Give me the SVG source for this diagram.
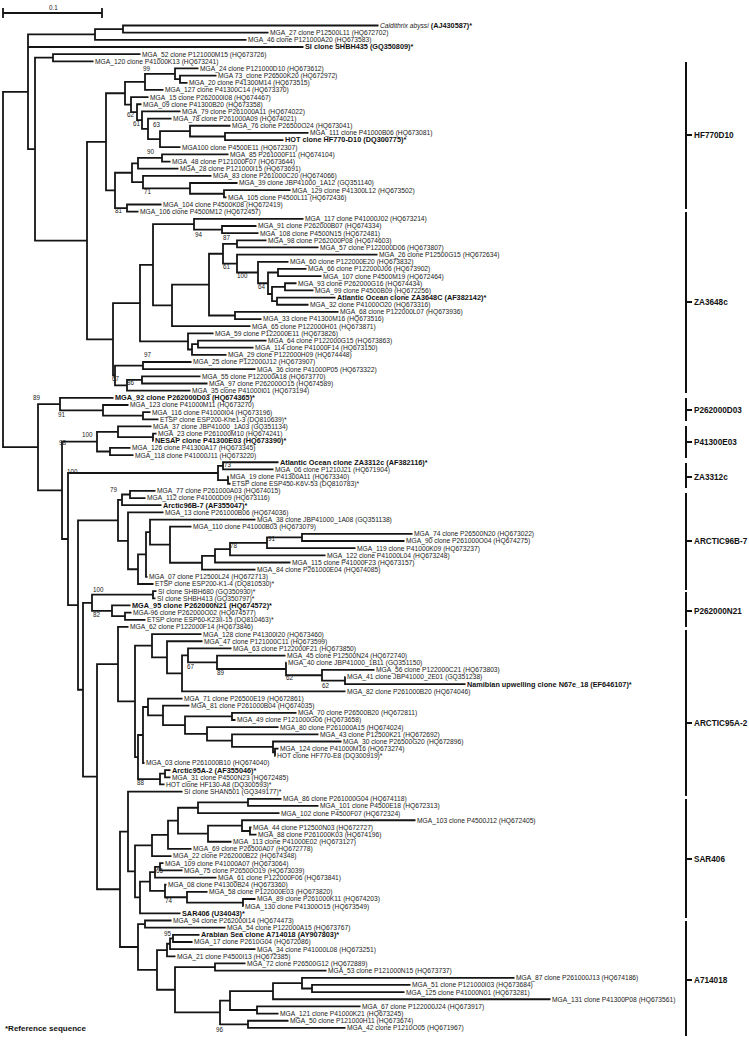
<svg xmlns="http://www.w3.org/2000/svg" width="749" height="1040" viewBox="0 0 749 1040">
<style>
.e{fill:none;stroke:#151515;stroke-width:1.8}
.k{fill:none;stroke:#111;stroke-width:2}
text{font-family:"Liberation Sans",Arial,sans-serif}
.t{font-size:6.7px;fill:#222}
.b{font-size:7.3px;font-weight:bold;fill:#111}
.s{font-size:6.3px;fill:#222}
.c{font-size:8.2px;font-weight:bold;fill:#111}
</style>
<rect width="749" height="1040" fill="#fff"/>
<g id="scale">
<path class="e" d="M3 13H102M3 8V18M102 8V18"/>
<text class="s" x="49" y="9.5">0.1</text>
</g>
<g id="connectors">
<path class="e" d="M378.5 25.5H123V32.66H268.5"/>
<path class="e" d="M123 29.08H95V39.82H246.5"/>
<path class="e" d="M95 34.45H28V149.15H35M28 46.98H303.5"/>
<path class="e" d="M140.5 54.14H53V61.3H93.5"/>
<path class="e" d="M53 57.72H35V240.57H87"/>
<path class="e" d="M216.5 75.62H180V82.78H187.5"/>
<path class="e" d="M198.5 68.46H175V79.2H180"/>
<path class="e" d="M175 73.83H145V89.94H163.5"/>
<path class="e" d="M308.5 132.9H225V140.06H283.5"/>
<path class="e" d="M230.5 125.74H190V136.48H225"/>
<path class="e" d="M190 131.11H160V147.22H180.5"/>
<path class="e" d="M171.5 118.58H148V139.17H160"/>
<path class="e" d="M180.5 111.42H142V128.88H148"/>
<path class="e" d="M141.5 104.26H137V120.15H142"/>
<path class="e" d="M148.5 97.1H131V112.2H137"/>
<path class="e" d="M145 81.89H125V104.65H131"/>
<path class="e" d="M228.5 154.38H162V161.54H170.5"/>
<path class="e" d="M162 157.96H138V168.7H178.5"/>
<path class="e" d="M290.5 190.18H224V197.34H226.5"/>
<path class="e" d="M237.5 183.02H190V193.76H224"/>
<path class="e" d="M211.5 175.86H143V188.39H190"/>
<path class="e" d="M138 163.33H132V182.13H143"/>
<path class="e" d="M161.5 204.5H127V211.66H138.5"/>
<path class="e" d="M132 172.73H115V208.08H127"/>
<path class="e" d="M125 93.27H106V190.4H115"/>
<path class="e" d="M106 141.84H87V339.29H113"/>
<path class="e" d="M256.5 225.98H222V233.14H258.5"/>
<path class="e" d="M303.5 218.82H194V229.56H222"/>
<path class="e" d="M266.5 240.3H237V247.46H318.5"/>
<path class="e" d="M306.5 268.94H278V276.1H321.5"/>
<path class="e" d="M296.5 283.26H285V290.42H313.5"/>
<path class="e" d="M335.5 297.58H277V304.74H308.5"/>
<path class="e" d="M285 286.84H272V301.16H277"/>
<path class="e" d="M278 272.52H268V294H272"/>
<path class="e" d="M288.5 261.78H258V283.26H268"/>
<path class="e" d="M377.5 254.62H237V272.52H258"/>
<path class="e" d="M237 243.88H223V263.57H237"/>
<path class="e" d="M338.5 311.9H235V319.06H261.5"/>
<path class="e" d="M223 253.73H209V315.48H235"/>
<path class="e" d="M209 284.6H172V326.22H250.5"/>
<path class="e" d="M194 224.19H153V305.41H172"/>
<path class="e" d="M266.5 340.54H198V347.7H253.5"/>
<path class="e" d="M198 344.12H192V354.86H226.5"/>
<path class="e" d="M213.5 333.38H188V349.49H192"/>
<path class="e" d="M153 264.8H140V341.44H188"/>
<path class="e" d="M191.5 362.02H143V369.18H255.5"/>
<path class="e" d="M200.5 376.34H142V383.5H207.5"/>
<path class="e" d="M142 379.92H127V390.66H190.5"/>
<path class="e" d="M143 365.6H115V385.29H127"/>
<path class="e" d="M140 303.12H113V375.45H115"/>
<path class="e" d="M28 91.8H3V447.22H38"/>
<path class="e" d="M150.5 412.14H143V419.3H158.5"/>
<path class="e" d="M128.5 404.98H103V415.72H143"/>
<path class="e" d="M113.5 397.82H60V410.35H103"/>
<path class="e" d="M60 404.09H38V490.35H62"/>
<path class="e" d="M156.5 433.62H153V440.78H153.5"/>
<path class="e" d="M151.5 426.46H118V437.2H153"/>
<path class="e" d="M130.5 447.94H110V455.1H133.5"/>
<path class="e" d="M118 431.83H97V451.52H110"/>
<path class="e" d="M97 441.68H62V539.02H68"/>
<path class="e" d="M278.5 462.26H223V469.42H273.5"/>
<path class="e" d="M228.5 476.58H228V483.74H230.5"/>
<path class="e" d="M223 465.84H218V480.16H228"/>
<path class="e" d="M218 473H68V605.04H78"/>
<path class="e" d="M155.5 490.9H130V498.06H145.5"/>
<path class="e" d="M130 494.48H122V505.22H161.5"/>
<path class="e" d="M412.5 533.86H302V541.02H404.5"/>
<path class="e" d="M302 537.44H267V548.18H355.5"/>
<path class="e" d="M267 542.81H230V555.34H325.5"/>
<path class="e" d="M230 549.08H215V562.5H290.5"/>
<path class="e" d="M215 555.79H202V569.66H255.5"/>
<path class="e" d="M191.5 526.7H170V562.73H202"/>
<path class="e" d="M255.5 519.54H150V544.71H170"/>
<path class="e" d="M150 532.13H146V576.82H147.5"/>
<path class="e" d="M146 554.47H138V583.98H153.5"/>
<path class="e" d="M163.5 512.38H128V569.23H138"/>
<path class="e" d="M122 499.85H118V540.8H128"/>
<path class="e" d="M118 520.33H78V689.75H83"/>
<path class="e" d="M156.5 591.14H153V598.3H155.5"/>
<path class="e" d="M131.5 612.62H125V619.78H145.5"/>
<path class="e" d="M130.5 605.46H112V616.2H125"/>
<path class="e" d="M153 594.72H92V610.83H112"/>
<path class="e" d="M92 602.78H83V776.72H97"/>
<path class="e" d="M345.5 677.06H345V684.22H465.5"/>
<path class="e" d="M374.5 669.9H322V680.64H345"/>
<path class="e" d="M286.5 662.74H286V675.27H322"/>
<path class="e" d="M285.5 655.58H217V669H286"/>
<path class="e" d="M231.5 648.42H188V662.29H217"/>
<path class="e" d="M188 655.36H182V691.38H345.5"/>
<path class="e" d="M202.5 641.26H167V673.37H182"/>
<path class="e" d="M201.5 634.1H152V657.32H167"/>
<path class="e" d="M296.5 712.86H232V720.02H235.5"/>
<path class="e" d="M278.5 748.66H275V755.82H275.5"/>
<path class="e" d="M341.5 741.5H273V752.24H275"/>
<path class="e" d="M318.5 734.34H232V746.87H273"/>
<path class="e" d="M278.5 727.18H207V740.61H232"/>
<path class="e" d="M232 716.44H185V733.9H207"/>
<path class="e" d="M189.5 705.7H163V725.17H185"/>
<path class="e" d="M182.5 698.54H148V715.44H163"/>
<path class="e" d="M148 706.99H143V762.98H144.5"/>
<path class="e" d="M170.5 770.14H165V777.3H170.5"/>
<path class="e" d="M165 773.72H160V784.46H164.5"/>
<path class="e" d="M143 734.99H138V779.09H160"/>
<path class="e" d="M152 645.71H135V757.04H138"/>
<path class="e" d="M128.5 626.94H118V701.38H135"/>
<path class="e" d="M118 664.16H97V889.27H120"/>
<path class="e" d="M281.5 798.78H248V805.94H318.5"/>
<path class="e" d="M248 802.36H198V813.1H279.5"/>
<path class="e" d="M251.5 827.42H250V834.58H256.5"/>
<path class="e" d="M415.5 820.26H242V831H250"/>
<path class="e" d="M242 825.63H208V841.74H231.5"/>
<path class="e" d="M198 807.73H178V833.69H208"/>
<path class="e" d="M178 820.71H168V848.9H191.5"/>
<path class="e" d="M168 834.8H152V856.06H171.5"/>
<path class="e" d="M163.5 863.22H160V870.38H182.5"/>
<path class="e" d="M160 866.8H155V877.54H216.5"/>
<path class="e" d="M255.5 899.02H243V906.18H243.5"/>
<path class="e" d="M207.5 891.86H187V902.6H243"/>
<path class="e" d="M166.5 884.7H165V897.23H187"/>
<path class="e" d="M155 872.17H150V890.97H165"/>
<path class="e" d="M150 881.57H140V913.34H180.5"/>
<path class="e" d="M152 845.43H135V897.46H140"/>
<path class="e" d="M182.5 791.62H128V871.45H135"/>
<path class="e" d="M171.5 920.5H145V927.66H225.5"/>
<path class="e" d="M199.5 934.82H173V941.98H192.5"/>
<path class="e" d="M173 938.4H170V949.14H255.5"/>
<path class="e" d="M170 943.77H167V956.3H175.5"/>
<path class="e" d="M245.5 963.46H215V970.62H326.5"/>
<path class="e" d="M410.5 984.94H312V992.1H404.5"/>
<path class="e" d="M514.5 977.78H302V988.52H312"/>
<path class="e" d="M302 983.15H273V999.26H550.5"/>
<path class="e" d="M360.5 1006.42H257V1013.58H278.5"/>
<path class="e" d="M273 991.21H230V1010H257"/>
<path class="e" d="M288.5 1020.74H248V1027.9H345.5"/>
<path class="e" d="M230 1000.6H220V1024.32H248"/>
<path class="e" d="M215 967.04H175V1012.46H220"/>
<path class="e" d="M167 950.04H157V989.75H175"/>
<path class="e" d="M145 924.08H138V969.9H157"/>
<path class="e" d="M128 831.54H120V946.99H138"/>
</g>
<g id="support">
<text class="s" x="143" y="71">99</text>
<text class="s" x="127" y="117">62</text>
<text class="s" x="133" y="126">61</text>
<text class="s" x="153" y="127">63</text>
<text class="s" x="147" y="154">90</text>
<text class="s" x="144" y="194">71</text>
<text class="s" x="115" y="213">81</text>
<text class="s" x="195" y="237">94</text>
<text class="s" x="223" y="240">87</text>
<text class="s" x="223" y="269">61</text>
<text class="s" x="237" y="278">100</text>
<text class="s" x="258" y="289">64</text>
<text class="s" x="144" y="357">97</text>
<text class="s" x="112" y="381">67</text>
<text class="s" x="127" y="385">86</text>
<text class="s" x="33" y="400">89</text>
<text class="s" x="58" y="417">91</text>
<text class="s" x="82" y="437">100</text>
<text class="s" x="59" y="445">98</text>
<text class="s" x="67" y="474">100</text>
<text class="s" x="224" y="467">73</text>
<text class="s" x="110" y="492">79</text>
<text class="s" x="230" y="548">78</text>
<text class="s" x="268" y="541">91</text>
<text class="s" x="93" y="592">100</text>
<text class="s" x="93" y="617">82</text>
<text class="s" x="187" y="669">67</text>
<text class="s" x="217" y="675">89</text>
<text class="s" x="286" y="680">62</text>
<text class="s" x="322" y="688">62</text>
<text class="s" x="137" y="785">88</text>
<text class="s" x="156" y="873">65</text>
<text class="s" x="165" y="903">74</text>
<text class="s" x="164" y="936">95</text>
<text class="s" x="216" y="1032">96</text>
</g>
<g id="tip1"><text x="380" y="27.9"><tspan class="t" font-style="italic" font-size="7.1px">Caldithrix abyssi</tspan><tspan class="b"> (AJ430587)*</tspan></text></g>
<g id="tip2"><text class="t" x="270" y="35.06">MGA_27 clone P12500L11 (HQ672702)</text></g>
<g id="tip3"><text class="t" x="248" y="42.22">MGA_46 clone P121000A20 (HQ673583)</text></g>
<g id="tip4"><text class="b" x="305" y="49.38">SI clone SHBH435 (GQ350809)*</text></g>
<g id="tip5"><text class="t" x="142" y="56.54">MGA_52 clone P121000M15 (HQ673726)</text></g>
<g id="tip6"><text class="t" x="95" y="63.7">MGA_120 clone P41000K13 (HQ673241)</text></g>
<g id="tip7"><text class="t" x="200" y="70.86">MGA_24 clone P121000D10 (HQ673612)</text></g>
<g id="tip8"><text class="t" x="218" y="78.02">MGA 73_clone P26500K20 (HQ672972)</text></g>
<g id="tip9"><text class="t" x="189" y="85.18">MGA_20 clone P41300M14 (HQ673515)</text></g>
<g id="tip10"><text class="t" x="165" y="92.34">MGA_127 clone P41300C14 (HQ673370)</text></g>
<g id="tip11"><text class="t" x="150" y="99.5">MGA_15 clone P262000I08 (HQ674467)</text></g>
<g id="tip12"><text class="t" x="143" y="106.66">MGA_09 clone P41300B20 (HQ673358)</text></g>
<g id="tip13"><text class="t" x="182" y="113.82">MGA_79 clone P261000A11 (HQ674022)</text></g>
<g id="tip14"><text class="t" x="173" y="120.98">MGA_78 clone P261000A09 (HQ674021)</text></g>
<g id="tip15"><text class="t" x="232" y="128.14">MGA_76 clone P26500O24 (HQ673041)</text></g>
<g id="tip16"><text class="t" x="310" y="135.3">MGA_111 clone P41000B06 (HQ673081)</text></g>
<g id="tip17"><text class="b" x="285" y="142.46">HOT clone HF770-D10 (DQ300775)*</text></g>
<g id="tip18"><text class="t" x="182" y="149.62">MGA100 clone P4500E11 (HQ672307)</text></g>
<g id="tip19"><text class="t" x="230" y="156.78">MGA_85 P261000F11 (HQ674104)</text></g>
<g id="tip20"><text class="t" x="172" y="163.94">MGA_48 clone P121000F07 (HQ673644)</text></g>
<g id="tip21"><text class="t" x="180" y="171.1">MGA_28 clone P121000I15 (HQ673691)</text></g>
<g id="tip22"><text class="t" x="213" y="178.26">MGA_83 clone P261000C20 (HQ674066)</text></g>
<g id="tip23"><text class="t" x="239" y="185.42">MGA_39 clone JBP41000_1A12 (GQ351140)</text></g>
<g id="tip24"><text class="t" x="292" y="192.58">MGA_129 clone P41300L12 (HQ673502)</text></g>
<g id="tip25"><text class="t" x="228" y="199.74">MGA_105 clone P4500L11 (HQ672436)</text></g>
<g id="tip26"><text class="t" x="163" y="206.9">MGA_104 clone P4500K08 (HQ672419)</text></g>
<g id="tip27"><text class="t" x="140" y="214.06">MGA_106 clone P4500M12 (HQ672457)</text></g>
<g id="tip28"><text class="t" x="305" y="221.22">MGA_117 clone P41000J02 (HQ673214)</text></g>
<g id="tip29"><text class="t" x="258" y="228.38">MGA_91 clone P262000B07 (HQ674334)</text></g>
<g id="tip30"><text class="t" x="260" y="235.54">MGA_108 clone P4500N15 (HQ672481)</text></g>
<g id="tip31"><text class="t" x="268" y="242.7">MGA_98 clone P262000P08 (HQ674603)</text></g>
<g id="tip32"><text class="t" x="320" y="249.86">MGA_57 clone P122000D06 (HQ673807)</text></g>
<g id="tip33"><text class="t" x="379" y="257.02">MGA_26 clone P12500G15 (HQ672634)</text></g>
<g id="tip34"><text class="t" x="290" y="264.18">MGA_60 clone P122000E20 (HQ673832)</text></g>
<g id="tip35"><text class="t" x="308" y="271.34">MGA_66 clone P122000J06 (HQ673902)</text></g>
<g id="tip36"><text class="t" x="323" y="278.5">MGA_107 clone P4500M19 (HQ672464)</text></g>
<g id="tip37"><text class="t" x="298" y="285.66">MGA_93 clone P262000G16 (HQ674434)</text></g>
<g id="tip38"><text class="t" x="315" y="292.82">MGA_99 clone P4500B09 (HQ672256)</text></g>
<g id="tip39"><text class="b" x="337" y="299.98">Atlantic Ocean clone ZA3648C (AF382142)*</text></g>
<g id="tip40"><text class="t" x="310" y="307.14">MGA_32 clone P41000O20 (HQ673316)</text></g>
<g id="tip41"><text class="t" x="340" y="314.3">MGA_68 clone P122000L07 (HQ673936)</text></g>
<g id="tip42"><text class="t" x="263" y="321.46">MGA_33 clone P41300M16 (HQ673516)</text></g>
<g id="tip43"><text class="t" x="252" y="328.62">MGA_65 clone P122000H01 (HQ673871)</text></g>
<g id="tip44"><text class="t" x="215" y="335.78">MGA_59 clone P122000E11 (HQ673826)</text></g>
<g id="tip45"><text class="t" x="268" y="342.94">MGA_64 clone P122000G15 (HQ673863)</text></g>
<g id="tip46"><text class="t" x="255" y="350.1">MGA_114 clone P41000F14 (HQ673150)</text></g>
<g id="tip47"><text class="t" x="228" y="357.26">MGA_29 clone P122000H09 (HQ674448)</text></g>
<g id="tip48"><text class="t" x="193" y="364.42">MGA_25 clone P122000J12 (HQ673907)</text></g>
<g id="tip49"><text class="t" x="257" y="371.58">MGA_36 clone P41000P05 (HQ673322)</text></g>
<g id="tip50"><text class="t" x="202" y="378.74">MGA_55 clone P122000A18 (HQ673770)</text></g>
<g id="tip51"><text class="t" x="209" y="385.9">MGA_97 clone P262000O15 (HQ674589)</text></g>
<g id="tip52"><text class="t" x="192" y="393.06">MGA_35 clone P41000I01 (HQ673194)</text></g>
<g id="tip53"><text class="b" x="115" y="400.22">MGA_92 clone P262000D03 (HQ674365)*</text></g>
<g id="tip54"><text class="t" x="130" y="407.38">MGA_123 clone P41000M11 (HQ673270)</text></g>
<g id="tip55"><text class="t" x="152" y="414.54">MGA_116 clone P41000I04 (HQ673196)</text></g>
<g id="tip56"><text class="t" x="160" y="421.7">ETSP clone ESP200-Khe1-3 (DQ810639)*</text></g>
<g id="tip57"><text class="t" x="153" y="428.86">MGA_37 clone JBP41000_1A03 (GQ351134)</text></g>
<g id="tip58"><text class="t" x="158" y="436.02">MGA_23 clone P261000M10 (HQ674241)</text></g>
<g id="tip59"><text class="b" x="155" y="443.18">NESAP clone P41300E03 (HQ673390)*</text></g>
<g id="tip60"><text class="t" x="132" y="450.34">MGA_126 clone P41300A17 (HQ673345)</text></g>
<g id="tip61"><text class="t" x="135" y="457.5">MGA_118 clone P41000J11 (HQ673220)</text></g>
<g id="tip62"><text class="b" x="280" y="464.66">Atlantic Ocean clone ZA3312c (AF382116)*</text></g>
<g id="tip63"><text class="t" x="275" y="471.82">MGA_06 clone P1210J21 (HQ671904)</text></g>
<g id="tip64"><text class="t" x="230" y="478.98">MGA_19 clone P41300A11 (HQ673340)</text></g>
<g id="tip65"><text class="t" x="232" y="486.14">ETSP clone ESP450-K6V-53 (DQ810783)*</text></g>
<g id="tip66"><text class="t" x="157" y="493.3">MGA_77 clone P261000A03 (HQ674015)</text></g>
<g id="tip67"><text class="t" x="147" y="500.46">MGA_112 clone P41000D09 (HQ673116)</text></g>
<g id="tip68"><text class="b" x="163" y="507.62">Arctic96B-7 (AF355047)*</text></g>
<g id="tip69"><text class="t" x="165" y="514.78">MGA_13 clone P261000B06 (HQ674036)</text></g>
<g id="tip70"><text class="t" x="257" y="521.94">MGA_38 clone JBP41000_1A08 (GQ351138)</text></g>
<g id="tip71"><text class="t" x="193" y="529.1">MGA_110 clone P41000B03 (HQ673079)</text></g>
<g id="tip72"><text class="t" x="414" y="536.26">MGA_74 clone P26500N20 (HQ673022)</text></g>
<g id="tip73"><text class="t" x="406" y="543.42">MGA_90 clone P261000O04 (HQ674275)</text></g>
<g id="tip74"><text class="t" x="357" y="550.58">MGA_119 clone P41000K09 (HQ673237)</text></g>
<g id="tip75"><text class="t" x="327" y="557.74">MGA_122 clone P41000L04 (HQ673248)</text></g>
<g id="tip76"><text class="t" x="292" y="564.9">MGA_115 clone P41000F23 (HQ673157)</text></g>
<g id="tip77"><text class="t" x="257" y="572.06">MGA_84 clone P261000E04 (HQ674085)</text></g>
<g id="tip78"><text class="t" x="149" y="579.22">MGA_07 clone P12500L24 (HQ672713)</text></g>
<g id="tip79"><text class="t" x="155" y="586.38">ETSP clone ESP200-K1-4 (DQ810530)*</text></g>
<g id="tip80"><text class="t" x="158" y="593.54">SI clone SHBH680 (GQ350930)*</text></g>
<g id="tip81"><text class="t" x="157" y="600.7">SI clone SHBH413 (GQ350797)*</text></g>
<g id="tip82"><text class="b" x="132" y="607.86">MGA_95 clone P262000N21 (HQ674572)*</text></g>
<g id="tip83"><text class="t" x="133" y="615.02">MGA-96 clone P262000O02 (HQ674577)</text></g>
<g id="tip84"><text class="t" x="147" y="622.18">ETSP clone ESP60-K23II-15 (DQ810463)*</text></g>
<g id="tip85"><text class="t" x="130" y="629.34">MGA_62 clone P122000F14 (HQ673846)</text></g>
<g id="tip86"><text class="t" x="203" y="636.5">MGA_128 clone P41300I20 (HQ673460)</text></g>
<g id="tip87"><text class="t" x="204" y="643.66">MGA_47 clone P121000C11 (HQ673599)</text></g>
<g id="tip88"><text class="t" x="233" y="650.82">MGA_63 clone P122000F21 (HQ673850)</text></g>
<g id="tip89"><text class="t" x="287" y="657.98">MGA_45 clone P12500N24 (HQ672740)</text></g>
<g id="tip90"><text class="t" x="288" y="665.14">MGA_40 clone JBP41000_1B11 (GQ351150)</text></g>
<g id="tip91"><text class="t" x="376" y="672.3">MGA_56 clone P122000C21 (HQ673803)</text></g>
<g id="tip92"><text class="t" x="347" y="679.46">MGA_41 clone JBP41000_2E01 (GQ351238)</text></g>
<g id="tip93"><text class="b" x="467" y="686.62">Namibian upwelling clone N67e_18 (EF646107)*</text></g>
<g id="tip94"><text class="t" x="347" y="693.78">MGA_82 clone P261000B20 (HQ674046)</text></g>
<g id="tip95"><text class="t" x="184" y="700.94">MGA_71 clone P26500E19 (HQ672861)</text></g>
<g id="tip96"><text class="t" x="191" y="708.1">MGA_81 clone P261000B04 (HQ674035)</text></g>
<g id="tip97"><text class="t" x="298" y="715.26">MGA_70 clone P26500B20 (HQ672811)</text></g>
<g id="tip98"><text class="t" x="237" y="722.42">MGA_49 clone P121000G06 (HQ673658)</text></g>
<g id="tip99"><text class="t" x="280" y="729.58">MGA_80 clone P261000A15 (HQ674024)</text></g>
<g id="tip100"><text class="t" x="320" y="736.74">MGA_43 clone P12500K21 (HQ672692)</text></g>
<g id="tip101"><text class="t" x="343" y="743.9">MGA_30 clone P26500G20 (HQ672896)</text></g>
<g id="tip102"><text class="t" x="280" y="751.06">MGA_124 clone P41000M16 (HQ673274)</text></g>
<g id="tip103"><text class="t" x="277" y="758.22">HOT clone HF770-E8 (DQ300919)*</text></g>
<g id="tip104"><text class="t" x="146" y="765.38">MGA_03 clone P261000B10 (HQ674040)</text></g>
<g id="tip105"><text class="b" x="172" y="772.54">Arctic95A-2 (AF355046)*</text></g>
<g id="tip106"><text class="t" x="172" y="779.7">MGA_31 clone P4500N23 (HQ672485)</text></g>
<g id="tip107"><text class="t" x="166" y="786.86">HOT clone HF130-A8 (DQ300593)*</text></g>
<g id="tip108"><text class="t" x="184" y="794.02">SI clone SHAN501 (GQ349177)*</text></g>
<g id="tip109"><text class="t" x="283" y="801.18">MGA_86 clone P261000G04 (HQ674118)</text></g>
<g id="tip110"><text class="t" x="320" y="808.34">MGA_101 clone P4500E18 (HQ672313)</text></g>
<g id="tip111"><text class="t" x="281" y="815.5">MGA_102 clone P4500F07 (HQ672324)</text></g>
<g id="tip112"><text class="t" x="417" y="822.66">MGA_103 clone P4500J12 (HQ672405)</text></g>
<g id="tip113"><text class="t" x="253" y="829.82">MGA_44 clone P12500N03 (HQ672727)</text></g>
<g id="tip114"><text class="t" x="258" y="836.98">MGA_88 clone P261000K03 (HQ674196)</text></g>
<g id="tip115"><text class="t" x="233" y="844.14">MGA_113 clone P41000E02 (HQ673127)</text></g>
<g id="tip116"><text class="t" x="193" y="851.3">MGA_69 clone P26500A07 (HQ672778)</text></g>
<g id="tip117"><text class="t" x="173" y="858.46">MGA_22 clone P262000B22 (HQ674348)</text></g>
<g id="tip118"><text class="t" x="165" y="865.62">MGA_109 clone P41000A07 (HQ673064)</text></g>
<g id="tip119"><text class="t" x="184" y="872.78">MGA_75 clone P26500O19 (HQ673039)</text></g>
<g id="tip120"><text class="t" x="218" y="879.94">MGA_61 clone P122000F06 (HQ673841)</text></g>
<g id="tip121"><text class="t" x="168" y="887.1">MGA_08 clone P41300B24 (HQ673360)</text></g>
<g id="tip122"><text class="t" x="209" y="894.26">MGA_58 clone P122000E03 (HQ673820)</text></g>
<g id="tip123"><text class="t" x="257" y="901.42">MGA_89 clone P261000K11 (HQ674203)</text></g>
<g id="tip124"><text class="t" x="245" y="908.58">MGA_130 clone P41300O15 (HQ673549)</text></g>
<g id="tip125"><text class="b" x="182" y="915.74">SAR406 (U34043)*</text></g>
<g id="tip126"><text class="t" x="173" y="922.9">MGA_94 clone P262000I14 (HQ674473)</text></g>
<g id="tip127"><text class="t" x="227" y="930.06">MGA_54 clone P122000A15 (HQ673767)</text></g>
<g id="tip128"><text class="b" x="201" y="937.22">Arabian Sea clone A714018 (AY907803)*</text></g>
<g id="tip129"><text class="t" x="194" y="944.38">MGA_17 clone P2610G04 (HQ672086)</text></g>
<g id="tip130"><text class="t" x="257" y="951.54">MGA_34 clone P41000L08 (HQ673251)</text></g>
<g id="tip131"><text class="t" x="177" y="958.7">MGA_21 clone P4500I13 (HQ672385)</text></g>
<g id="tip132"><text class="t" x="247" y="965.86">MGA_72 clone P26500G12 (HQ672889)</text></g>
<g id="tip133"><text class="t" x="328" y="973.02">MGA_53 clone P121000N15 (HQ673737)</text></g>
<g id="tip134"><text class="t" x="516" y="980.18">MGA_87 clone P261000J13 (HQ674186)</text></g>
<g id="tip135"><text class="t" x="412" y="987.34">MGA_51 clone P121000I03 (HQ673684)</text></g>
<g id="tip136"><text class="t" x="406" y="994.5">MGA_125 clone P41000N01 (HQ673281)</text></g>
<g id="tip137"><text class="t" x="552" y="1001.66">MGA_131 clone P41300P08 (HQ673561)</text></g>
<g id="tip138"><text class="t" x="362" y="1008.82">MGA_67 clone P122000J24 (HQ673917)</text></g>
<g id="tip139"><text class="t" x="280" y="1015.98">MGA_121 clone P41000K21 (HQ673245)</text></g>
<g id="tip140"><text class="t" x="290" y="1023.14">MGA_50 clone P121000H11 (HQ673674)</text></g>
<g id="tip141"><text class="t" x="347" y="1030.3">MGA_42 clone P1210O05 (HQ671967)</text></g>
<g id="clade-HF770D10"><path class="k" d="M686 62V209M686 135H692"/><text class="c" x="694" y="138">HF770D10</text></g>
<g id="clade-ZA3648c"><path class="k" d="M686 212V393M686 302H692"/><text class="c" x="694" y="305">ZA3648c</text></g>
<g id="clade-P262000D03"><path class="k" d="M686 398V421M686 410H692"/><text class="c" x="694" y="413">P262000D03</text></g>
<g id="clade-P41300E03"><path class="k" d="M686 426V458M686 442H692"/><text class="c" x="694" y="445">P41300E03</text></g>
<g id="clade-ZA3312c"><path class="k" d="M686 463V488M686 477H692"/><text class="c" x="694" y="480">ZA3312c</text></g>
<g id="clade-ARCTIC96B-7"><path class="k" d="M686 493V590M686 541H692"/><text class="c" x="694" y="544">ARCTIC96B-7</text></g>
<g id="clade-P262000N21"><path class="k" d="M686 592V627M686 611H692"/><text class="c" x="694" y="614">P262000N21</text></g>
<g id="clade-ARCTIC95A-2"><path class="k" d="M686 630V796M686 723H692"/><text class="c" x="694" y="726">ARCTIC95A-2</text></g>
<g id="clade-SAR406"><path class="k" d="M686 799V918M686 859H692"/><text class="c" x="694" y="862">SAR406</text></g>
<g id="clade-A714018"><path class="k" d="M686 921V1036M686 980H692"/><text class="c" x="694" y="983">A714018</text></g>
<g id="legend"><text x="5" y="1031" font-size="8px" font-weight="bold" fill="#111">*Reference sequence</text></g>
</svg>
